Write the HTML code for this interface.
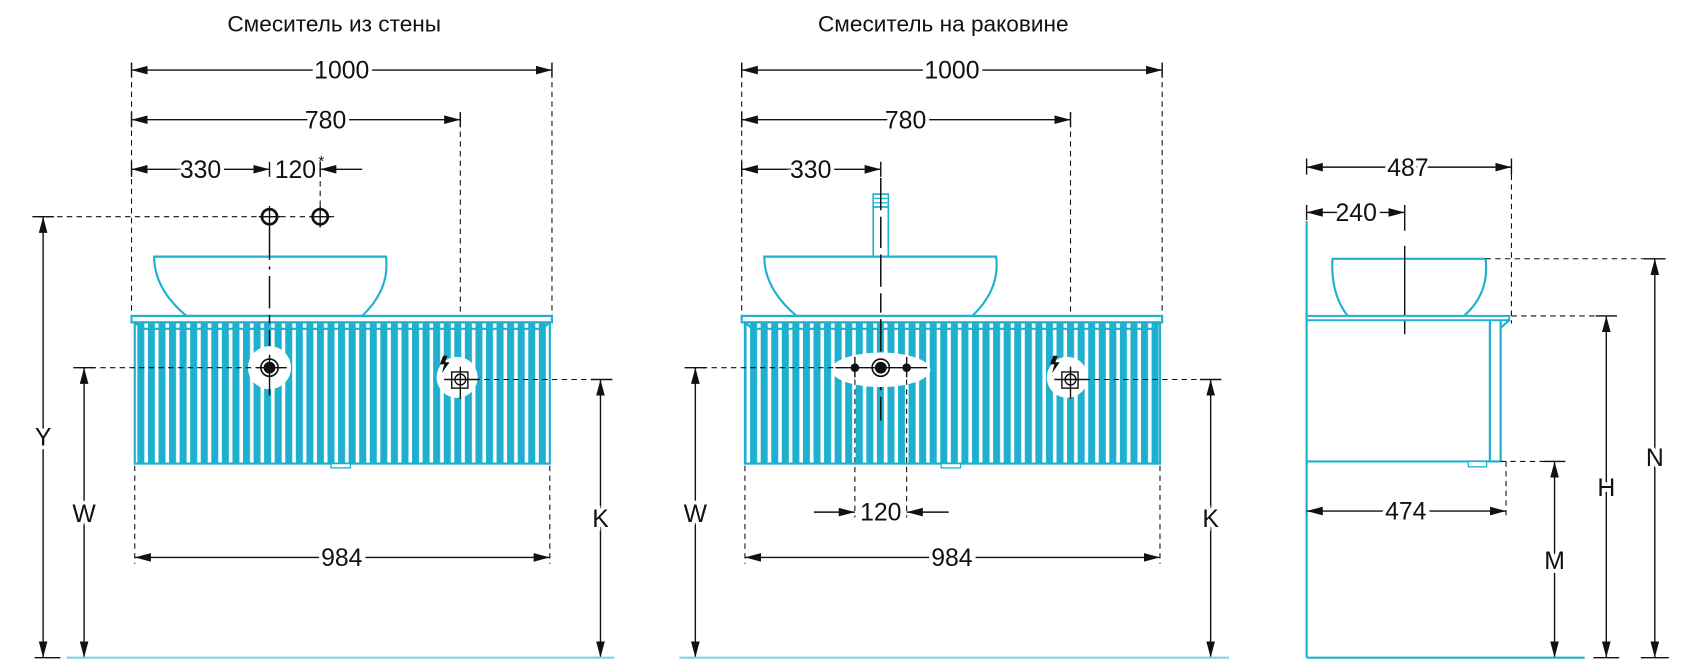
<!DOCTYPE html>
<html><head><meta charset="utf-8"><style>
html,body{margin:0;padding:0;background:#fff;}
svg{display:block;}
text{font-family:"Liberation Sans","DejaVu Sans",sans-serif;fill:#111;}
.d{stroke:#111;stroke-width:1.3;fill:none;}
.dash{stroke:#111;stroke-width:1;stroke-dasharray:5,4;fill:none;}
.c{stroke:#1fb0cf;stroke-width:2;fill:none;}
.t{font-size:23px;text-anchor:middle;stroke:#fff;stroke-width:7;paint-order:stroke;}
</style></head><body>
<svg width="1685" height="662" viewBox="0 0 1563 614" xmlns="http://www.w3.org/2000/svg">
<defs>
<marker id="a" markerUnits="userSpaceOnUse" markerWidth="16" markerHeight="10" refX="15" refY="4" orient="auto-start-reverse"><path d="M0,0 L15,4 L0,8 z" fill="#111"/></marker>
<pattern id="st" width="9.8" height="20" patternUnits="userSpaceOnUse"><rect width="9.8" height="20" fill="#1fb0cf"/><rect x="6.5" width="3.3" height="20" fill="#fff"/></pattern>
</defs>
<rect width="1563" height="614" fill="#fff"/>

<text x="310" y="29" font-size="21" text-anchor="middle">Смеситель из стены</text>
<text x="875" y="29" font-size="21" text-anchor="middle">Смеситель на раковине</text>

<!-- LEFT VIEW -->
<g>
<path class="dash" d="M122,58 V295 M512,58 V295 M427,104 V370 M297,150 V205"/>
<path class="d" d="M122,58 V72 M512,58 V72 M122,104 V118 M427,104 V118 M122,150 V164 M250,150 V164 M297,150 V164"/>
<line class="d" x1="122" y1="65" x2="512" y2="65" marker-start="url(#a)" marker-end="url(#a)"/>
<text class="t" x="317" y="73">1000</text>
<line class="d" x1="122" y1="111" x2="427" y2="111" marker-start="url(#a)" marker-end="url(#a)"/>
<text class="t" x="302" y="119">780</text>
<line class="d" x1="122" y1="157" x2="250" y2="157" marker-start="url(#a)" marker-end="url(#a)"/>
<text class="t" x="186" y="165">330</text>
<line class="d" x1="336" y1="157" x2="297" y2="157" marker-end="url(#a)"/>
<text class="t" x="274" y="165">120</text>
<text x="298" y="154" font-size="14" text-anchor="middle">*</text>
<path class="dash" d="M35,201 H310"/>
<circle cx="250" cy="201" r="7" fill="none" stroke="#111" stroke-width="2.5"/>
<circle cx="297" cy="201" r="7" fill="none" stroke="#111" stroke-width="2.5"/>
<path class="d" d="M240,201 H260 M250,191 V211 M287,201 H307 M297,191 V211"/>
<path class="c" d="M143,238 H358 Q362,268 336,293 H173 Q143,268 143,238 Z" fill="#fff"/>
<rect x="122" y="293" width="390" height="6" fill="#fff" stroke="#1fb0cf" stroke-width="2"/>
<rect x="125" y="299" width="385" height="131" fill="url(#st)" stroke="#1fb0cf" stroke-width="2"/>
<path class="c" d="M125,299 L132,305 H503 L510,299"/>
<rect x="307" y="430" width="18" height="4" fill="#fff" stroke="#1fb0cf" stroke-width="1.2"/>
<path d="M250,211 V250 M250,256 V300 M250,306 V366" stroke="#111" stroke-width="1.4" stroke-dasharray="30,6"/>
<circle cx="250" cy="341" r="20" fill="#fff"/>
<path class="dash" d="M75,341 H240"/>
<path class="d" d="M238,341 H266 M250,329 V367"/>
<circle cx="250" cy="341" r="8" fill="none" stroke="#111" stroke-width="1.5"/>
<circle cx="250" cy="341" r="5.5" fill="#111"/>
<circle cx="424" cy="350" r="19" fill="#fff"/>
<path class="dash" d="M440,352 H560"/>
<rect x="419" y="345" width="15" height="15" fill="none" stroke="#111" stroke-width="1.3"/>
<circle cx="427" cy="352" r="5" fill="none" stroke="#111" stroke-width="1.3"/>
<path class="d" d="M412,352 H445 M427,340 V370"/>
<path d="M411,330 L415,330 L413,336 L417,336 L410,346 L412,338 L408,338 Z" fill="#111"/>
<path class="dash" d="M125,432 V523 M510,432 V523"/>
<line class="d" x1="125" y1="517" x2="510" y2="517" marker-start="url(#a)" marker-end="url(#a)"/>
<text class="t" x="317" y="525">984</text>
<path class="d" d="M30,201 H50 M68,341 H88 M548,352 H568 M32,610 H56"/>
<line class="d" x1="40" y1="201" x2="40" y2="610" marker-start="url(#a)" marker-end="url(#a)"/>
<text class="t" x="40" y="413">Y</text>
<line class="d" x1="78" y1="341" x2="78" y2="610" marker-start="url(#a)" marker-end="url(#a)"/>
<text class="t" x="78" y="484">W</text>
<line class="d" x1="557" y1="352" x2="557" y2="610" marker-start="url(#a)" marker-end="url(#a)"/>
<text class="t" x="557" y="489">K</text>
<line x1="62" y1="610" x2="570" y2="610" stroke="#7fd3e3" stroke-width="2"/>
</g>

<!-- MIDDLE VIEW -->
<g>
<path class="dash" d="M688,58 V295 M1078,58 V295 M993,104 V370"/>
<path class="d" d="M688,58 V72 M1078,58 V72 M688,104 V118 M993,104 V118 M688,150 V164 M817,150 V164"/>
<line class="d" x1="688" y1="65" x2="1078" y2="65" marker-start="url(#a)" marker-end="url(#a)"/>
<text class="t" x="883" y="73">1000</text>
<line class="d" x1="688" y1="111" x2="993" y2="111" marker-start="url(#a)" marker-end="url(#a)"/>
<text class="t" x="840" y="119">780</text>
<line class="d" x1="688" y1="157" x2="817" y2="157" marker-start="url(#a)" marker-end="url(#a)"/>
<text class="t" x="752" y="165">330</text>
<rect x="810" y="180" width="14" height="12" fill="#fff" stroke="#1fb0cf" stroke-width="1.5"/>
<path stroke="#1fb0cf" stroke-width="1.2" d="M811,184 H823 M811,188 H823"/>
<rect x="810" y="192" width="14" height="46" fill="#fff" stroke="#1fb0cf" stroke-width="1.5"/>
<path class="c" d="M709,238 H924 Q928,268 902,293 H739 Q709,268 709,238 Z" fill="#fff"/>
<rect x="688" y="293" width="390" height="6" fill="#fff" stroke="#1fb0cf" stroke-width="2"/>
<rect x="691" y="299" width="385" height="131" fill="url(#st)" stroke="#1fb0cf" stroke-width="2"/>
<path class="c" d="M691,299 L698,305 H1069 L1076,299"/>
<rect x="873" y="430" width="18" height="4" fill="#fff" stroke="#1fb0cf" stroke-width="1.2"/>
<path d="M817,165 V230 M817,236 V290 M817,296 V390" stroke="#111" stroke-width="1.4" stroke-dasharray="30,6"/>
<ellipse cx="817" cy="343" rx="46" ry="16" fill="#fff"/>
<path class="dash" d="M642,341 H780"/>
<path class="d" d="M775,341 H860 M793,331 V350 M841,331 V350"/>
<circle cx="793" cy="341" r="4" fill="#111"/>
<circle cx="841" cy="341" r="4" fill="#111"/>
<circle cx="817" cy="341" r="8" fill="none" stroke="#111" stroke-width="1.5"/>
<circle cx="817" cy="341" r="5.5" fill="#111"/>
<path class="dash" d="M793,352 V480 M841,352 V480"/>
<line class="d" x1="755" y1="475" x2="793" y2="475" marker-end="url(#a)"/>
<line class="d" x1="880" y1="475" x2="841" y2="475" marker-end="url(#a)"/>
<text class="t" x="817" y="483">120</text>
<circle cx="990" cy="350" r="19" fill="#fff"/>
<path class="dash" d="M1006,352 H1126"/>
<rect x="985" y="345" width="15" height="15" fill="none" stroke="#111" stroke-width="1.3"/>
<circle cx="993" cy="352" r="5" fill="none" stroke="#111" stroke-width="1.3"/>
<path class="d" d="M978,352 H1011 M993,340 V370"/>
<path d="M977,330 L981,330 L979,336 L983,336 L976,346 L978,338 L974,338 Z" fill="#111"/>
<path class="dash" d="M691,432 V523 M1076,432 V523"/>
<line class="d" x1="691" y1="517" x2="1076" y2="517" marker-start="url(#a)" marker-end="url(#a)"/>
<text class="t" x="883" y="525">984</text>
<path class="d" d="M635,341 H655 M1113,352 H1133"/>
<line class="d" x1="645" y1="341" x2="645" y2="610" marker-start="url(#a)" marker-end="url(#a)"/>
<text class="t" x="645" y="484">W</text>
<line class="d" x1="1123" y1="352" x2="1123" y2="610" marker-start="url(#a)" marker-end="url(#a)"/>
<text class="t" x="1123" y="489">K</text>
<line x1="630" y1="610" x2="1140" y2="610" stroke="#7fd3e3" stroke-width="2"/>
</g>

<!-- SIDE VIEW -->
<g>
<path class="d" d="M1212,147 V162 M1402,147 V162 M1212,190 V204 M1303,190 V214"/>
<path class="dash" d="M1402,162 V300"/>
<line class="d" x1="1212" y1="155" x2="1402" y2="155" marker-start="url(#a)" marker-end="url(#a)"/>
<text class="t" x="1306" y="163">487</text>
<line class="d" x1="1212" y1="197" x2="1303" y2="197" marker-start="url(#a)" marker-end="url(#a)"/>
<text class="t" x="1258" y="205">240</text>
<line class="c" x1="1212" y1="205" x2="1212" y2="610"/>
<path class="c" d="M1236,240 H1378 Q1382,272 1358,293 H1250 Q1234,272 1236,240 Z" fill="#fff"/>
<line class="d" x1="1303" y1="228" x2="1303" y2="310"/>
<rect x="1212" y="293" width="188" height="4" fill="#fff" stroke="#1fb0cf" stroke-width="1.8"/>
<path class="c" d="M1212,428 H1392 M1382,297 V428 M1392,297 V428 M1400,297 L1392,304"/>
<rect x="1362" y="428" width="17" height="5" fill="#fff" stroke="#1fb0cf" stroke-width="1.2"/>
<path class="dash" d="M1378,240 H1540 M1402,293 H1495 M1392,428 H1447 M1397,428 V480"/>
<line class="d" x1="1212" y1="474" x2="1397" y2="474" marker-start="url(#a)" marker-end="url(#a)"/>
<text class="t" x="1304" y="482">474</text>
<path class="d" d="M1432,428 H1452 M1480,293 H1500 M1525,240 H1545 M1478,610 H1502 M1522,610 H1548"/>
<line class="d" x1="1442" y1="428" x2="1442" y2="610" marker-start="url(#a)" marker-end="url(#a)"/>
<text class="t" x="1442" y="528">M</text>
<line class="d" x1="1490" y1="293" x2="1490" y2="610" marker-start="url(#a)" marker-end="url(#a)"/>
<text class="t" x="1490" y="460">H</text>
<line class="d" x1="1535" y1="240" x2="1535" y2="610" marker-start="url(#a)" marker-end="url(#a)"/>
<text class="t" x="1535" y="432">N</text>
<line x1="1212" y1="610" x2="1470" y2="610" stroke="#1fb0cf" stroke-width="2"/>
</g>
</svg>
</body></html>
